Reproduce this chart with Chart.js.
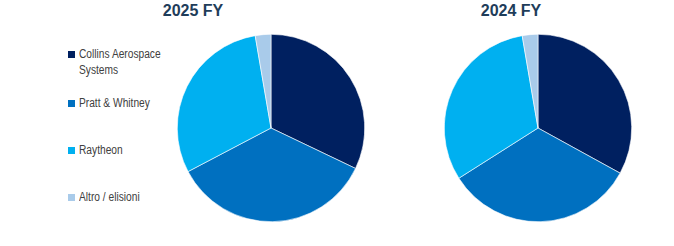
<!DOCTYPE html>
<html><head><meta charset="utf-8">
<script src="https://cdn.jsdelivr.net/npm/chart.js@4/dist/chart.umd.min.js"></script>
<style>
html,body{margin:0;padding:0;background:#fff;}
body{width:674px;height:246px;position:relative;overflow:hidden;font-family:"Liberation Sans",Arial,sans-serif;}
#c1{position:absolute;left:177px;top:0;}
#c2{position:absolute;left:444px;top:0;}
.ttl{position:absolute;top:1px;width:200px;margin-left:-100px;text-align:center;font-weight:bold;font-size:16px;line-height:19px;color:#1E3D5A;}
.leg{position:absolute;left:68px;font-size:12px;color:#404040;line-height:16px;}
.leg .sw{position:absolute;left:0;top:5px;width:7px;height:7px;}
.leg .tx{position:absolute;left:11px;top:0;white-space:nowrap;transform:scaleX(0.85);transform-origin:0 0;}
</style></head>
<body>
<div id="titles"></div>
<canvas id="c1" width="188" height="246"></canvas>
<canvas id="c2" width="188" height="246"></canvas>
<div id="legend"></div>
<script>
const categories = ["Collins Aerospace Systems", "Pratt & Whitney", "Raytheon", "Altro / elisioni"];
const legendLines = [["Collins Aerospace", "Systems"], ["Pratt & Whitney"], ["Raytheon"], ["Altro / elisioni"]];
const values2025 = [32.1, 35.2, 30.0, 2.7];
const values2024 = [33.0, 33.0, 31.3, 2.7];
const titles = ["2025 FY", "2024 FY"];
const colors = ["#002060", "#0070C0", "#00B0F0", "#A9CBEA"];

// titles
const titleCenters = [193, 511];
titles.forEach((t, i) => {
  const d = document.createElement('div');
  d.className = 'ttl';
  d.style.left = titleCenters[i] + 'px';
  d.textContent = t;
  document.getElementById('titles').appendChild(d);
});

// HTML legend
const legTops = [46, 95, 142, 189];
const legEl = document.getElementById('legend');
categories.forEach((c, i) => {
  const d = document.createElement('div');
  d.className = 'leg';
  d.style.top = legTops[i] + 'px';
  d.innerHTML = '<div class="sw" style="background:' + colors[i] + '"></div><div class="tx">' + legendLines[i].join('<br>') + '</div>';
  legEl.appendChild(d);
});

function makePie(id, values) {
  return new Chart(document.getElementById(id), {
    type: 'pie',
    data: {
      labels: categories,
      datasets: [{ data: values, backgroundColor: colors, borderColor: '#ffffff', borderWidth: 0.6 }]
    },
    options: {
      responsive: false,
      animation: false,
      layout: { padding: { left: 0, right: 0, top: 34, bottom: 24 } },
      plugins: {
        legend: { display: false },
        tooltip: { enabled: false },
        title: { display: false }
      }
    }
  });
}
makePie('c1', values2025);
makePie('c2', values2024);
</script>
</body></html>
